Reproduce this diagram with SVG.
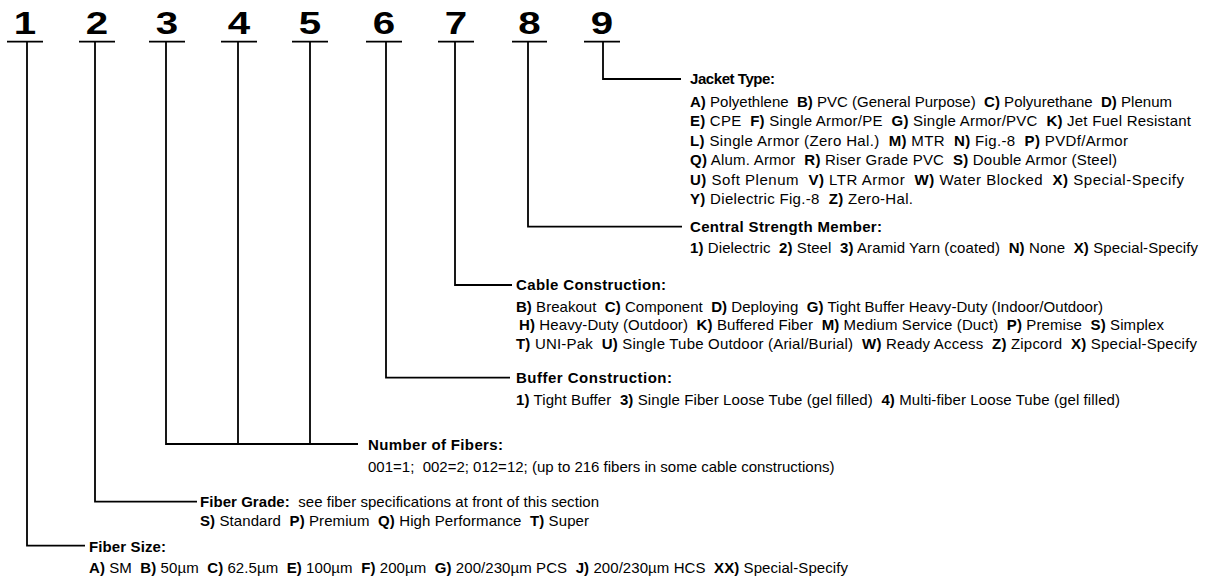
<svg xmlns="http://www.w3.org/2000/svg" width="1205" height="577" viewBox="0 0 1205 577">
<style>
text{font-family:"Liberation Sans",Arial,sans-serif;fill:#000;white-space:pre}
.d{font-size:31px;font-weight:bold;text-anchor:middle}
.h{font-size:15px;font-weight:bold}
.t{font-size:15px}
.b{font-weight:bold}
.ln{fill:none;stroke:#000;stroke-width:1.8}
</style>
<rect width="1205" height="577" fill="#fff"/>
<g id="digits">
<g id="d1"><text class="d" transform="translate(25,34) scale(1.3,1)">1</text><line class="ln" x1="7" y1="41.7" x2="43" y2="41.7"/></g>
<g id="d2"><text class="d" transform="translate(97,34) scale(1.3,1)">2</text><line class="ln" x1="79" y1="41.7" x2="115" y2="41.7"/></g>
<g id="d3"><text class="d" transform="translate(167,34) scale(1.3,1)">3</text><line class="ln" x1="149" y1="41.7" x2="185" y2="41.7"/></g>
<g id="d4"><text class="d" transform="translate(239,34) scale(1.3,1)">4</text><line class="ln" x1="221" y1="41.7" x2="257" y2="41.7"/></g>
<g id="d5"><text class="d" transform="translate(310,34) scale(1.3,1)">5</text><line class="ln" x1="292" y1="41.7" x2="328" y2="41.7"/></g>
<g id="d6"><text class="d" transform="translate(384,34) scale(1.3,1)">6</text><line class="ln" x1="366" y1="41.7" x2="402" y2="41.7"/></g>
<g id="d7"><text class="d" transform="translate(456,34) scale(1.3,1)">7</text><line class="ln" x1="438" y1="41.7" x2="474" y2="41.7"/></g>
<g id="d8"><text class="d" transform="translate(529.5,34) scale(1.3,1)">8</text><line class="ln" x1="512" y1="41.7" x2="547" y2="41.7"/></g>
<g id="d9"><text class="d" transform="translate(602,34) scale(1.3,1)">9</text><line class="ln" x1="584" y1="41.7" x2="620" y2="41.7"/></g>
</g>
<g id="connectors">
<polyline class="ln" points="603,41.7 603,79 681,79"/>
<polyline class="ln" points="528,41.7 528,226.7 682,226.7"/>
<polyline class="ln" points="455,41.7 455,285 512,285"/>
<polyline class="ln" points="386,41.7 386,377.7 510,377.7"/>
<polyline class="ln" points="166,41.7 166,444 358,444"/>
<line class="ln" x1="238" y1="41.7" x2="238" y2="444"/>
<line class="ln" x1="310" y1="41.7" x2="310" y2="444"/>
<polyline class="ln" points="95,41.7 95,501.7 197,501.7"/>
<polyline class="ln" points="27,41.7 27,545.7 85,545.7"/>
</g>
<g id="jacket">
<text class="h" x="690" y="84" textLength="85" lengthAdjust="spacing">Jacket Type:</text>
<text class="t" x="690" y="106.5" textLength="482" lengthAdjust="spacing"><tspan class="b">A)</tspan> Polyethlene  <tspan class="b">B)</tspan> PVC (General Purpose)  <tspan class="b">C)</tspan> Polyurethane  <tspan class="b">D)</tspan> Plenum</text>
<text class="t" x="690" y="126" textLength="501" lengthAdjust="spacing"><tspan class="b">E)</tspan> CPE  <tspan class="b">F)</tspan> Single Armor/PE  <tspan class="b">G)</tspan> Single Armor/PVC  <tspan class="b">K)</tspan> Jet Fuel Resistant</text>
<text class="t" x="690" y="145.5" textLength="438" lengthAdjust="spacing"><tspan class="b">L)</tspan> Single Armor (Zero Hal.)  <tspan class="b">M)</tspan> MTR  <tspan class="b">N)</tspan> Fig.-8  <tspan class="b">P)</tspan> PVDf/Armor</text>
<text class="t" x="690" y="165" textLength="427" lengthAdjust="spacing"><tspan class="b">Q)</tspan> Alum. Armor  <tspan class="b">R)</tspan> Riser Grade PVC  <tspan class="b">S)</tspan> Double Armor (Steel)</text>
<text class="t" x="690" y="184.5" textLength="494" lengthAdjust="spacing"><tspan class="b">U)</tspan> Soft Plenum  <tspan class="b">V)</tspan> LTR Armor  <tspan class="b">W)</tspan> Water Blocked  <tspan class="b">X)</tspan> Special-Specify</text>
<text class="t" x="690" y="203.5" textLength="223" lengthAdjust="spacing"><tspan class="b">Y)</tspan> Dielectric Fig.-8  <tspan class="b">Z)</tspan> Zero-Hal.</text>
</g>
<g id="central">
<text class="h" x="690" y="231.5" textLength="192" lengthAdjust="spacing">Central Strength Member:</text>
<text class="t" x="690" y="253" textLength="508" lengthAdjust="spacing"><tspan class="b">1)</tspan> Dielectric  <tspan class="b">2)</tspan> Steel  <tspan class="b">3)</tspan> Aramid Yarn (coated)  <tspan class="b">N)</tspan> None  <tspan class="b">X)</tspan> Special-Specify</text>
</g>
<g id="cable">
<text class="h" x="516" y="289.5" textLength="150" lengthAdjust="spacing">Cable Construction:</text>
<text class="t" x="516" y="311.5" textLength="587" lengthAdjust="spacing"><tspan class="b">B)</tspan> Breakout  <tspan class="b">C)</tspan> Component  <tspan class="b">D)</tspan> Deploying  <tspan class="b">G)</tspan> Tight Buffer Heavy-Duty (Indoor/Outdoor)</text>
<text class="t" x="519" y="330" textLength="645" lengthAdjust="spacing"><tspan class="b">H)</tspan> Heavy-Duty (Outdoor)  <tspan class="b">K)</tspan> Buffered Fiber  <tspan class="b">M)</tspan> Medium Service (Duct)  <tspan class="b">P)</tspan> Premise  <tspan class="b">S)</tspan> Simplex</text>
<text class="t" x="516" y="348.5" textLength="681" lengthAdjust="spacing"><tspan class="b">T)</tspan> UNI-Pak  <tspan class="b">U)</tspan> Single Tube Outdoor (Arial/Burial)  <tspan class="b">W)</tspan> Ready Access  <tspan class="b">Z)</tspan> Zipcord  <tspan class="b">X)</tspan> Special-Specify</text>
</g>
<g id="buffer">
<text class="h" x="516" y="383" textLength="156" lengthAdjust="spacing">Buffer Construction:</text>
<text class="t" x="516" y="405" textLength="604" lengthAdjust="spacing"><tspan class="b">1)</tspan> Tight Buffer  <tspan class="b">3)</tspan> Single Fiber Loose Tube (gel filled)  <tspan class="b">4)</tspan> Multi-fiber Loose Tube (gel filled)</text>
</g>
<g id="fibers">
<text class="h" x="368" y="450" textLength="135" lengthAdjust="spacing">Number of Fibers:</text>
<text class="t" x="368" y="471.5">001=1;  002=2; 012=12; (up to 216 fibers in some cable constructions)</text>
</g>
<g id="grade">
<text class="t" x="200" y="506.5" textLength="399" lengthAdjust="spacing"><tspan class="b">Fiber Grade:</tspan>  see fiber specifications at front of this section</text>
<text class="t" x="200" y="525.5" textLength="389" lengthAdjust="spacing"><tspan class="b">S)</tspan> Standard  <tspan class="b">P)</tspan> Premium  <tspan class="b">Q)</tspan> High Performance  <tspan class="b">T)</tspan> Super</text>
</g>
<g id="size">
<text class="h" x="89" y="551.5" textLength="77" lengthAdjust="spacing">Fiber Size:</text>
<text class="t" x="89" y="573" textLength="759" lengthAdjust="spacing"><tspan class="b">A)</tspan> SM  <tspan class="b">B)</tspan> 50µm  <tspan class="b">C)</tspan> 62.5µm  <tspan class="b">E)</tspan> 100µm  <tspan class="b">F)</tspan> 200µm  <tspan class="b">G)</tspan> 200/230µm PCS  <tspan class="b">J)</tspan> 200/230µm HCS  <tspan class="b">XX)</tspan> Special-Specify</text>
</g>
</svg>
